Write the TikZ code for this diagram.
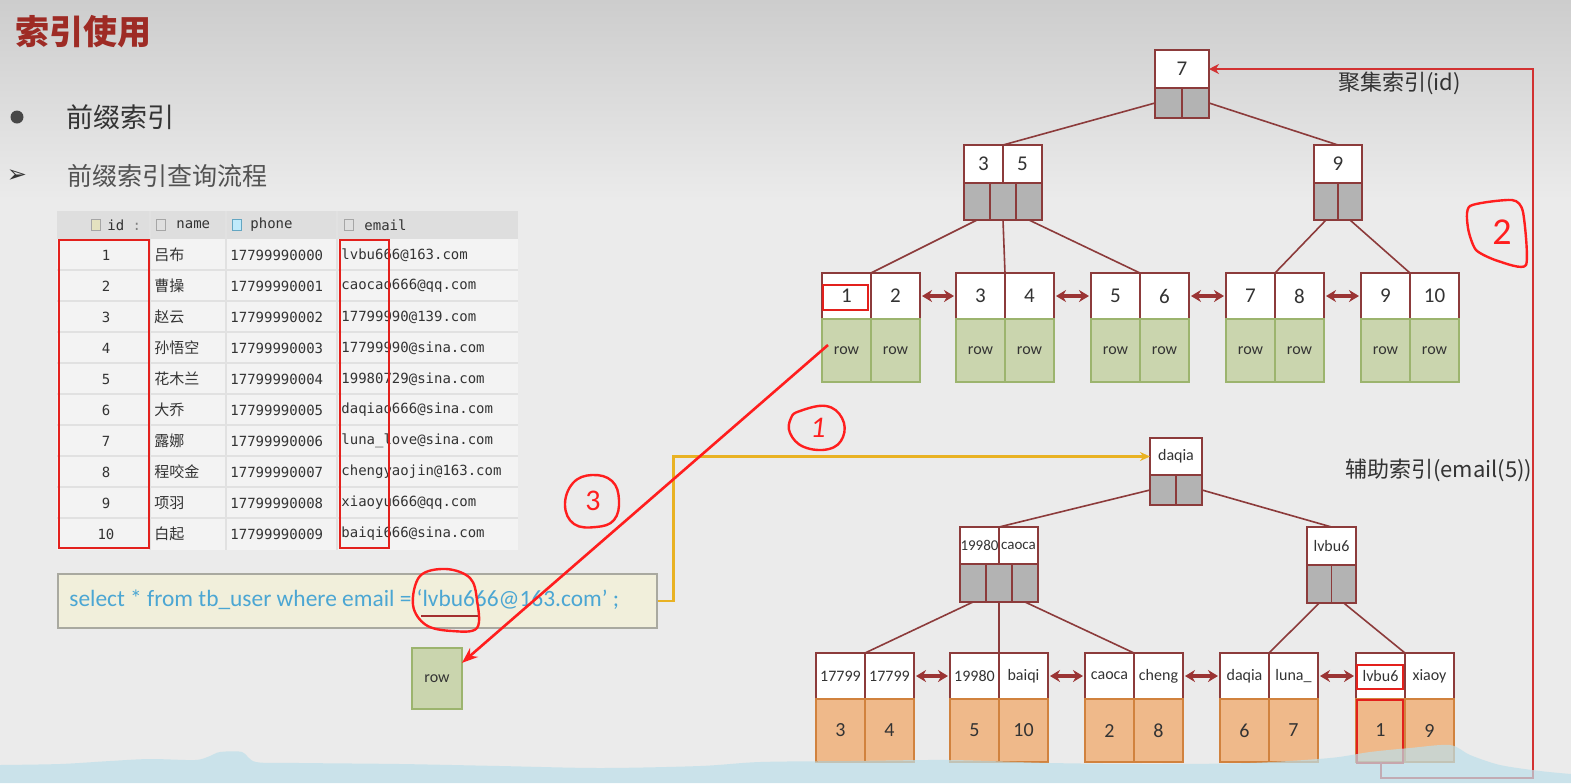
\documentclass[tikz,border=0pt]{standalone}
\usepackage{fontspec}
\setmainfont{Carlito}
\newfontfamily\cjk{Noto Sans CJK SC}
\newfontfamily\tblmono{DejaVu Sans Mono}
\newfontfamily\symf{DejaVu Sans}
\usetikzlibrary{arrows.meta,calc}

\definecolor{bgTop}{HTML}{CDCDCD}
\definecolor{bgMain}{HTML}{EBEBEB}
\definecolor{titleRed}{HTML}{9E2B25}
\definecolor{inkGray}{HTML}{333333}
\definecolor{nodeRed}{HTML}{8C3B3B}
\definecolor{linkRed}{HTML}{9B3434}
\definecolor{ptrGray}{HTML}{B3B3B3}
\definecolor{rowGreen}{HTML}{CAD5AE}
\definecolor{rowEdge}{HTML}{9CB46E}
\definecolor{valOrange}{HTML}{EFB98A}
\definecolor{valEdge}{HTML}{D1823E}
\definecolor{hlRed}{HTML}{E3201C}
\definecolor{handRed}{HTML}{FF1E1E}
\definecolor{pathRed}{HTML}{D23232}
\definecolor{yelLine}{HTML}{E9B223}
\definecolor{sqlFill}{HTML}{F1EFDB}
\definecolor{sqlEdge}{HTML}{A9A9A0}
\definecolor{sqlInk}{HTML}{4BA6D3}
\definecolor{tblHead}{HTML}{DEDEDE}
\definecolor{tblBody}{HTML}{F3F3F3}
\definecolor{tblLine}{HTML}{E1E1E1}
\definecolor{waveBlue}{HTML}{BCDFEA}

\begin{document}
\begin{tikzpicture}[x=0.5pt, y=-0.5pt,
  wh/.style 2 args={minimum width=#1, minimum height=#2},
  cellbase/.style={inner sep=0pt, outer sep=0pt, anchor=north west, line width=0.7pt, text=inkGray},
  keycell/.style={cellbase, draw=nodeRed, fill=white, font=\fontsize{10.5}{12}\selectfont},
  skeycell/.style={keycell, font=\fontsize{8}{9}\selectfont},
  ptr/.style={cellbase, draw=nodeRed, fill=ptrGray},
  rowcell/.style={cellbase, draw=rowEdge, fill=rowGreen, font=\fontsize{8}{9}\selectfont, wh={24.5pt}{31.5pt}},
  valcell/.style={cellbase, draw=valEdge, fill=valOrange, font=\fontsize{10}{12}\selectfont, wh={24.5pt}{31.5pt}},
  treeline/.style={nodeRed, line width=0.8pt},
  link/.style={{Stealth[length=5pt,width=6pt]}-{Stealth[length=5pt,width=6pt]}, linkRed, line width=1.6pt, shorten <=1pt, shorten >=1pt},
  lbl/.style={font=\cjk\fontsize{11}{13}\selectfont, text=inkGray, anchor=west},
  hlbox/.style={draw=hlRed, line width=1.1pt},
  handmark/.style={handRed, line width=1.2pt, line cap=round, line join=round},
  handnum/.style={text=handRed, font=\fontsize{15}{17}\selectfont},
  redarrow/.style={-{Stealth[length=8pt,width=6pt]}, handRed, line width=1.3pt},
  pathline/.style={-{Stealth[length=5pt,width=5pt]}, pathRed, line width=1pt},
  yelarrow/.style={-{Stealth[length=5pt,width=4.5pt]}, yelLine, line width=1.2pt},
  tcell/.style={font=\tblmono\fontsize{7}{8}\selectfont, text=inkGray, anchor=west, inner sep=0pt},
  tname/.style={font=\cjk\fontsize{7.5}{8}\selectfont, text=inkGray, anchor=west, inner sep=0pt},
  icon/.style={draw=gray!70, fill=gray!25, inner sep=0pt, minimum width=4.5pt, minimum height=5.5pt},
]

% === Background ===
\useasboundingbox (0,0) rectangle (1571,783);
\shade[top color=bgTop, bottom color=bgMain] (0,0) rectangle (1571,200);
\fill[bgMain] (0,200) rectangle (1571,783);

% === Heading and bullets ===
\node[anchor=west, text=titleRed, font=\cjk\bfseries\fontsize{17}{20}\selectfont] (title) at (8,32) {索引使用};
\node[circle, fill=inkGray!90, inner sep=0pt, minimum size=6.5pt] (bul1) at (17,117) {};
\node[anchor=west, text=inkGray, font=\cjk\fontsize{13.5}{16}\selectfont] (pt1) at (59,117) {前缀索引};
\node[text=inkGray, font=\symf\fontsize{12}{13}\selectfont] (bul2) at (17,176) {➢};
\node[anchor=west, text=inkGray!85, font=\cjk\fontsize{12.5}{15}\selectfont] (pt2) at (60,176) {前缀索引查询流程};

% === Table ===
\fill[tblBody] (57,211) rectangle (518,550);
\fill[tblHead] (57,211) rectangle (518,239);
\foreach \r in {1,...,9}
  \draw[tblLine, line width=0.6pt] (57,{239+31*\r}) -- (518,{239+31*\r});
\foreach \c in {150,226,337}
  \draw[tblLine, line width=0.6pt] (\c,211) -- (\c,550);
\node[icon, fill=yellow!40!gray!40] (ic-id) at (96,225) {};
\node[tcell] (h-id) at (107,225) {id\ \textcolor{gray}{:}};
\node[icon] (ic-nm) at (161,225) {};
\node[tcell] (h-nm) at (176,225) {name};
\node[icon, fill=cyan!25, draw=cyan!50!gray] (ic-ph) at (237,225) {};
\node[tcell] (h-ph) at (250,225) {phone};
\node[icon] (ic-em) at (349,225) {};
\node[tcell] (h-em) at (364,225) {email};
\foreach \nm/\mail [count=\k] in {吕布/lvbu666@163.com, 曹操/caocao666@qq.com, 赵云/17799990@139.com,
    孙悟空/17799990@sina.com, 花木兰/19980729@sina.com, 大乔/daqiao666@sina.com, 露娜/luna\_love@sina.com,
    程咬金/chengyaojin@163.com, 项羽/xiaoyu666@qq.com, 白起/baiqi666@sina.com} {
  \pgfmathtruncatemacro\p{\k-1}
  \node[tcell, anchor=center] (id-\k) at (106,{224+31*\k}) {\k};
  \node[tname] (nm-\k) at (154,{224+31*\k}) {\nm};
  \node[tcell] (ph-\k) at (230,{224+31*\k}) {1779999000\p};
  \node[tcell] (em-\k) at (341,{224+31*\k}) {\mail};
}
\draw[hlbox] (59,240) rectangle (149,548);
\draw[hlbox] (340,240) rectangle (389,548);

% === Query ===
\node[draw=sqlEdge, fill=sqlFill, line width=0.8pt, inner sep=0pt, anchor=north west, wh={299.5pt}{27pt}] (sql) at (57,573) {};
\node[anchor=west, text=sqlInk, font=\fontsize{11.7}{13}\selectfont, inner sep=0pt] (sqlq) at (69,600) {select * from tb\_user where email = ‘lvbu666@163.com’ ;};
\draw[handmark] plot[smooth cycle, tension=0.6] coordinates {(420,576) (446,569) (470,578) (477,600) (477,628) (452,631) (426,625) (413,605)};
\draw[nodeRed!80!red, line width=0.9pt] (421,616) -- (478,616);
\node[rowcell, wh={25pt}{30.5pt}] (rowbox) at (412,648) {row};

% === Clustered index (id) ===
\node[keycell, wh={27pt}{19pt}] (c-root) at (1155,50) {7};
\node[ptr, wh={13.5pt}{15pt}] (c-root-p1) at (c-root.south west) {};
\node[ptr, wh={13.5pt}{15pt}] (c-root-p2) at (c-root-p1.north east) {};
\node[keycell, wh={19.5pt}{19pt}] (c-l-k1) at (964,145) {3};
\node[keycell, wh={19.5pt}{19pt}] (c-l-k2) at (c-l-k1.north east) {5};
\node[ptr, wh={13pt}{18.5pt}] (c-l-p1) at (c-l-k1.south west) {};
\node[ptr, wh={13pt}{18.5pt}] (c-l-p2) at (c-l-p1.north east) {};
\node[ptr, wh={13pt}{18.5pt}] (c-l-p3) at (c-l-p2.north east) {};
\node[keycell, wh={24pt}{19pt}] (c-r-k1) at (1314,145) {9};
\node[ptr, wh={12pt}{18.5pt}] (c-r-p1) at (c-r-k1.south west) {};
\node[ptr, wh={12pt}{18.5pt}] (c-r-p2) at (c-r-p1.north east) {};
\foreach \i/\x/\a/\b in {1/822/1/2, 2/956/3/4, 3/1091/5/6, 4/1226/7/8, 5/1361/9/10} {
  \node[keycell, wh={24.5pt}{23pt}] (ck-\i-a) at (\x,273) {\a};
  \node[keycell, wh={24.5pt}{23pt}] (ck-\i-b) at (ck-\i-a.north east) {\b};
  \node[rowcell] (cr-\i-a) at (ck-\i-a.south west) {row};
  \node[rowcell] (cr-\i-b) at (ck-\i-b.south west) {row};
}
\draw[treeline] (c-root-p1.west) -- (c-l-k1.north east);
\draw[treeline] (c-root-p2.east) -- (c-r-k1.north);
\draw[treeline] (c-l-p1.south) -- (ck-1-a.north east);
\draw[treeline] (c-l-p2.south) -- (ck-2-a.north east);
\draw[treeline] (c-l-p3.south) -- (ck-3-a.north east);
\draw[treeline] (c-r-p1.south) -- (ck-4-a.north east);
\draw[treeline] (c-r-p2.south) -- (ck-5-a.north east);
\draw[hlbox] (823,285) rectangle (868,310);
\node[lbl] (c-title) at (1331,83) {聚集索引(id)};

% === Secondary index (email(5)) ===
\node[keycell, skeycell, wh={26pt}{18.5pt}] (s-root) at (1150,438) {daqia};
\node[ptr, wh={13pt}{15pt}] (s-root-p1) at (s-root.south west) {};
\node[ptr, wh={13pt}{15pt}] (s-root-p2) at (s-root-p1.north east) {};
\node[skeycell, wh={19.5pt}{18.5pt}, font=\fontsize{7.5}{9}\selectfont] (s-l-k1) at (960,527) {19980};
\node[skeycell, wh={19.5pt}{18.5pt}, font=\fontsize{7.5}{9}\selectfont] (s-l-k2) at (s-l-k1.north east) {caoca};
\node[ptr, wh={13pt}{19pt}] (s-l-p1) at (s-l-k1.south west) {};
\node[ptr, wh={13pt}{19pt}] (s-l-p2) at (s-l-p1.north east) {};
\node[ptr, wh={13pt}{19pt}] (s-l-p3) at (s-l-p2.north east) {};
\node[skeycell, wh={24.5pt}{19pt}] (s-r-k1) at (1307,527) {lvbu6};
\node[ptr, wh={12.25pt}{19pt}] (s-r-p1) at (s-r-k1.south west) {};
\node[ptr, wh={12.25pt}{19pt}] (s-r-p2) at (s-r-p1.north east) {};
\foreach \i/\x/\a/\b/\c/\d in {1/816/17799/17799/3/4, 2/950/19980/baiqi/5/10, 3/1085/caoca/cheng/2/8,
    4/1220/daqia/luna\_/6/7, 5/1356/lvbu6/xiaoy/1/9} {
  \node[skeycell, wh={24.5pt}{23pt}] (sk-\i-a) at (\x,653) {\a};
  \node[skeycell, wh={24.5pt}{23pt}] (sk-\i-b) at (sk-\i-a.north east) {\b};
  \node[valcell] (sv-\i-a) at (sk-\i-a.south west) {\c};
  \node[valcell] (sv-\i-b) at (sk-\i-b.south west) {\d};
}
\draw[treeline] (s-root-p1.west) -- (s-l-k1.north east);
\draw[treeline] (s-root-p2.east) -- (s-r-k1.north);
\draw[treeline] (s-l-p1.south) -- (sk-1-a.north east);
\draw[treeline] (s-l-p2.south) -- (sk-2-a.north east);
\draw[treeline] (s-l-p3.south) -- (sk-3-a.north east);
\draw[treeline] (s-r-p1.south) -- (sk-4-a.north east);
\draw[treeline] (s-r-p2.south) -- (sk-5-a.north east);
\draw[hlbox] (1357,665) rectangle (1403,689);
\draw[hlbox] (1357,700) rectangle (1403,763);
\node[lbl] (s-title) at (1338,470) {辅助索引(email(5))};

% === Leaf links ===
\foreach \i/\j in {1/2, 2/3, 3/4, 4/5} {
  \draw[link] (ck-\i-b.east) -- (ck-\j-a.west);
  \draw[link] (sk-\i-b.east) -- (sk-\j-a.west);
}

% === Lookup path ===
\draw[yelarrow] (sql.east) -- ++(16,0) |- (s-root.west);
\coordinate (c2) at (1533,778);
\draw[pathline] (sv-5-a.south) |- (c2) |- (c-root.east);
\coordinate (s3) at (828,345);
\draw[redarrow] (s3) -- (rowbox.32);

% === Step marks ===
\draw[handmark] plot[smooth cycle, tension=0.7] coordinates {(800,411) (826,406) (842,418) (843,437) (829,449) (804,447) (790,433) (791,418)};
\node[handnum, font=\itshape\fontsize{15}{17}\selectfont] (n1) at (818,428) {1};
\draw[handmark] plot[smooth cycle, tension=0.7] coordinates {(573,483) (592,475) (612,481) (619,500) (614,520) (596,527) (574,524) (565,505)};
\node[handnum] (n3) at (593,501) {3};
\draw[handmark] plot[smooth cycle, tension=0.4] coordinates {(1470,206) (1512,200) (1523,212) (1526,265) (1498,261) (1476,250) (1468,228)};
\node[handnum, font=\fontsize{19}{21}\selectfont] (n2) at (1502,232) {2};

% === Bottom wave ===
\fill[waveBlue, fill opacity=0.7] (0,783) -- plot[smooth, tension=0.5] coordinates {(0,765) (60,764) (110,761) (150,759) (195,760) (210,756) (220,752) (242,752) (256,762) (300,763) (400,764) (500,766) (600,768) (700,766) (760,762) (850,761) (950,760) (1050,763) (1150,764) (1250,763) (1330,758) (1370,752) (1410,748) (1450,745) (1470,755) (1500,765) (1540,771) (1571,774)} -- (1571,783) -- cycle;

\end{tikzpicture}
\end{document}
